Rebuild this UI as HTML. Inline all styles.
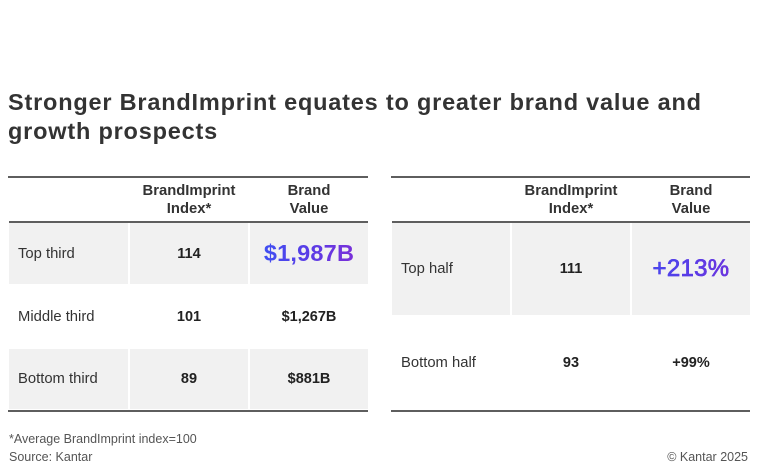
<!DOCTYPE html>
<html>
<head>
<meta charset="utf-8">
<style>
  html, body { margin:0; padding:0; background:#fff; }
  body { width:758px; height:474px; position:relative; overflow:hidden;
         font-family:"Liberation Sans", Arial, sans-serif; color:#333; }
  .title { position:absolute; left:8px; top:88.1px; font-size:23.5px; line-height:29px;
           font-weight:bold; color:#333; letter-spacing:0.8px; white-space:nowrap; }
  .line { position:absolute; height:2px; background:#5e5e5e; }
  .cell { position:absolute; display:flex; align-items:center; box-sizing:border-box; }
  .grey { background:#f1f1f1; }
  .lab { padding-left:9px; font-size:14.8px; color:#333; }
  .num { justify-content:center; font-size:14.5px; font-weight:bold; color:#222; }
  .hdr { justify-content:center; text-align:center; font-size:14.8px; font-weight:bold;
         color:#333; line-height:18px; }
  .big { font-size:23.5px; font-weight:bold; letter-spacing:0.2px;
         background:linear-gradient(100deg,#3e4ff2 0%,#5a3ce6 50%,#7b2fd8 100%);
         -webkit-background-clip:text; background-clip:text;
         -webkit-text-fill-color:transparent; color:transparent; }
  .big2 { font-size:24px; font-weight:normal; letter-spacing:0.3px;
         -webkit-text-stroke:0.6px #5a3ce6;
         background:linear-gradient(100deg,#3e4ff2 0%,#5a3ce6 50%,#7b2fd8 100%);
         -webkit-background-clip:text; background-clip:text;
         -webkit-text-fill-color:transparent; color:transparent; }
  .foot { position:absolute; font-size:12.5px; line-height:18px; color:#555; white-space:nowrap; }
</style>
</head>
<body>
  <div class="title">Stronger BrandImprint equates to greater brand value and<br>growth prospects</div>

  <!-- LEFT TABLE -->
  <div class="line" style="left:8px; top:176px; width:360px;"></div>
  <div class="cell hdr" style="left:130px; top:180px; width:118px; height:40px;">BrandImprint<br>Index*</div>
  <div class="cell hdr" style="left:250px; top:180px; width:118px; height:40px;">Brand<br>Value</div>
  <div class="line" style="left:9px; top:221px; width:359px;"></div>

  <div class="cell grey lab" style="left:9px; top:223px; width:119px; height:61px;">Top third</div>
  <div class="cell grey num" style="left:130px; top:223px; width:118px; height:61px;">114</div>
  <div class="cell grey num" style="left:250px; top:223px; width:118px; height:61px;"><span class="big">$1,987B</span></div>

  <div class="cell lab" style="left:9px; top:284px; width:119px; height:65px;">Middle third</div>
  <div class="cell num" style="left:130px; top:284px; width:118px; height:65px;">101</div>
  <div class="cell num" style="left:250px; top:284px; width:118px; height:65px;">$1,267B</div>

  <div class="cell grey lab" style="left:9px; top:349px; width:119px; height:60px;">Bottom third</div>
  <div class="cell grey num" style="left:130px; top:349px; width:118px; height:60px;">89</div>
  <div class="cell grey num" style="left:250px; top:349px; width:118px; height:60px;">$881B</div>
  <div class="line" style="left:8px; top:410px; width:360px;"></div>

  <!-- RIGHT TABLE -->
  <div class="line" style="left:391px; top:176px; width:359px;"></div>
  <div class="cell hdr" style="left:512px; top:180px; width:118px; height:40px;">BrandImprint<br>Index*</div>
  <div class="cell hdr" style="left:632px; top:180px; width:118px; height:40px;">Brand<br>Value</div>
  <div class="line" style="left:392px; top:221px; width:358px;"></div>

  <div class="cell grey lab" style="left:392px; top:223px; width:118px; height:92px;">Top half</div>
  <div class="cell grey num" style="left:512px; top:223px; width:118px; height:92px;">111</div>
  <div class="cell grey num" style="left:632px; top:223px; width:118px; height:92px;"><span class="big2">+213%</span></div>

  <div class="cell lab" style="left:392px; top:315px; width:118px; height:95px;">Bottom half</div>
  <div class="cell num" style="left:512px; top:315px; width:118px; height:95px;">93</div>
  <div class="cell num" style="left:632px; top:315px; width:118px; height:95px;">+99%</div>
  <div class="line" style="left:391px; top:410px; width:359px;"></div>

  <!-- FOOTER -->
  <div class="foot" style="left:9px; top:429.7px;">*Average BrandImprint index=100<br>Source: Kantar</div>
  <div class="foot" style="right:10px; top:447.7px;">© Kantar 2025</div>
</body>
</html>
